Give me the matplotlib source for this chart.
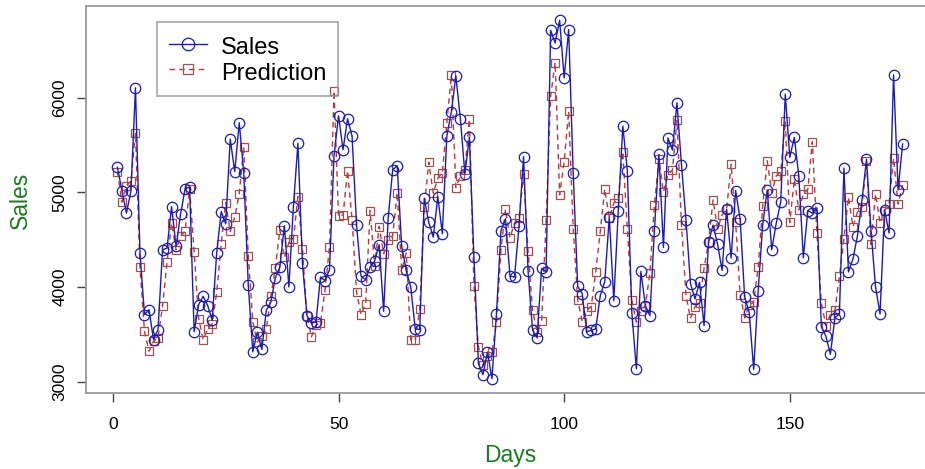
import matplotlib
matplotlib.use('Agg')
import matplotlib.pyplot as plt
import numpy as np

plt.rcParams['font.family'] = ['Liberation Sans', 'DejaVu Sans']

# Sales per dag (avläst)
sales = [5265, 5019, 4781, 5012, 6102, 4361, 3712, 3764, 3449, 3554,
         4395, 4413, 4851, 4430, 4771, 5040, 5055, 3530, 3817, 3904,
         3807, 3652, 4361, 4798, 4669, 5562, 5219, 5734, 5202, 4020,
         3320, 3526, 3344, 3757, 3841, 4098, 4213, 4648, 4003, 4851,
         5517, 4255, 3701, 3625, 3631, 4108, 4069, 4185, 5387, 5808,
         5450, 5776, 5594, 4651, 4115, 4080, 4213, 4277, 4448, 3747,
         4729, 5237, 5282, 4430, 4178, 4003, 3561, 3554, 4939, 4683,
         4529, 4956, 4564, 5594, 5849, 6228, 5776, 5195, 5580, 4319,
         3197, 3078, 3315, 3036, 3722, 4598, 4721, 4115, 4108, 4648,
         5377, 4175, 3547, 3467, 4199, 4164, 6709, 6575, 6814, 6207,
         6716, 5208, 4010, 3933, 3530, 3547, 3561, 3912, 4059, 4739,
         3859, 4809, 5699, 5229, 3730, 3141, 4167, 3807, 3701, 4595,
         5402, 4420, 5573, 5447, 5944, 5289, 4708, 4038, 3877, 4052,
         3596, 4480, 4655, 4455, 4178, 4823, 4308, 5019, 4718, 3898,
         3736, 3134, 3964, 4658, 5026, 4395, 4676, 4900, 6036, 5370,
         5580, 5174, 4311, 4809, 4781, 4837, 3583, 3484, 3294, 3677,
         3722, 5256, 4161, 4298, 4543, 4921, 5349, 4598, 4003, 3719,
         4816, 4571, 6239, 5026, 5510]

# Prognos per dag (avläst)
prediction = [5219, 4897, 5071, 5121, 5629, 4209, 3536, 3326, 3431, 3467,
              3799, 4266, 4676, 4395, 4535, 4592, 5037, 4374, 3670, 3449,
              3561, 3612, 3946, 4455, 4893, 4588, 4739, 4987, 5482, 4332,
              3635, 3421, 3484, 3561, 3904, 4199, 4605, 4314, 4472, 4508,
              4956, 4403, 3701, 3477, 3600, 3625, 3968, 4424, 6070, 4746,
              4760, 5229, 4711, 3946, 3709, 3828, 4809, 4227, 4640, 4353,
              4501, 4543, 4998, 4178, 4361, 3442, 3449, 3772, 4842, 5318,
              4991, 5149, 5205, 5734, 6235, 5051, 5177, 5237, 5770, 4017,
              3375, 3176, 3273, 3315, 3631, 4395, 4823, 4522, 4676, 4729,
              5195, 4386, 3757, 3530, 3641, 4704, 6015, 6369, 4973, 5324,
              5857, 4619, 3870, 3638, 3754, 3796, 4164, 4588, 5037, 4729,
              4886, 4942, 5429, 4613, 3862, 3631, 3754, 3807, 4150, 4869,
              5349, 5005, 5184, 5237, 5762, 4658, 3912, 3673, 3793, 3835,
              4199, 4476, 4921, 4613, 4763, 4823, 5297, 4683, 3922, 3677,
              3814, 3841, 4213, 4858, 5335, 4998, 5174, 5223, 5752, 4683,
              5139, 4816, 4981, 5034, 5534, 4571, 3835, 3596, 3712, 3757,
              4115, 4508, 4949, 4640, 4791, 4844, 5328, 4451, 4984, 4676,
              4809, 4879, 5360, 4876, 5076]

days = np.arange(1, len(sales) + 1)
x_ticks = [0, 50, 100, 150]
y_ticks = [3000, 4000, 5000, 6000]

W, H = 925, 469
fig = plt.figure(figsize=(W / 100, H / 100), dpi=100)
# axeln sticker ut till höger (bilden är beskuren)
ax = fig.add_axes([86 / W, 1 - 393 / H, (934 - 86) / W, (393 - 6) / H])

ax.plot(days, sales, color='#1c1cb0', linewidth=1.0, marker='o', markersize=7.5,
        markerfacecolor='none', markeredgecolor='#1c1cb0', markeredgewidth=0.9,
        label='Sales', zorder=3)
ax.plot(days, prediction, color='#b83a3a', linewidth=1.0, linestyle=(0, (4, 3)),
        marker='s', markersize=6, markerfacecolor='none', markeredgecolor='#a05050',
        markeredgewidth=0.9, label='Prediction', zorder=2)

ax.set_xlim(-5.96, 181.96)
ax.set_ylim(2885, 6965)
ax.set_xticks(x_ticks)
ax.set_yticks(y_ticks)
ax.set_yticklabels([str(v) for v in y_ticks], rotation=90, va='center')
ax.tick_params(axis='both', direction='out', length=6.5, width=1, color='#444444',
               labelsize=12.5)
ax.tick_params(axis='y', pad=7)
ax.tick_params(axis='x', pad=11)
for s in ax.spines.values():
    s.set_color('#999999')
    s.set_linewidth(1.3)

fig.text(20 / W, 1 - 200 / H, 'Sales', rotation=90, color='#1e7a1e', fontsize=16.5,
         ha='center', va='center')
fig.text(510 / W, 1 - 455 / H, 'Days', color='#1e7a1e', fontsize=16.5,
         ha='center', va='center')

# genomskinlig legend som i R (punkter syns igenom)
leg = ax.legend(loc='upper left', bbox_to_anchor=(157 / W, 1 - 22 / H),
                bbox_transform=fig.transFigure, fontsize=17, frameon=True,
                fancybox=False, edgecolor='#999999', facecolor='none',
                borderpad=0.5, handlelength=1.6, handleheight=1.25,
                handletextpad=0.6, labelspacing=0.0,
                borderaxespad=0, markerscale=1.2)
leg.get_frame().set_linewidth(1.3)

fig.savefig('out.png', dpi=100, facecolor='white')
